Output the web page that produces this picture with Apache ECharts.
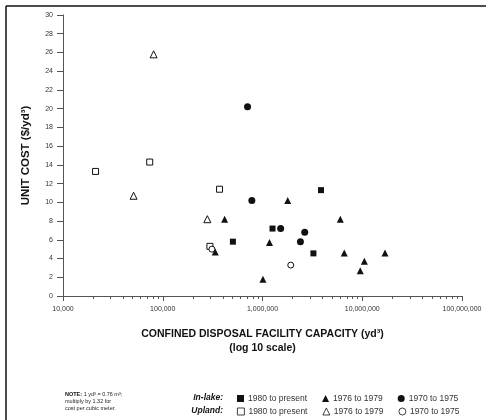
<!DOCTYPE html>
<html>
<head>
<meta charset="utf-8">
<script src="https://cdn.jsdelivr.net/npm/echarts@6/dist/echarts.min.js"></script>
<style>
  html, body { margin: 0; padding: 0; background: #fff; }
  #chart { width: 486px; height: 420px; }
</style>
</head>
<body>
<div id="chart"></div>
<script>
// capacity (yd3), unit cost ($/yd3)
const inLake1980 = [[505000, 5.8], [1260000, 7.2], [3860000, 11.3], [3240000, 4.55]]
const inLake1976 = [
  [417000, 8.2], [336000, 4.7], [1790000, 10.2], [6030000, 8.2], [1175000, 5.7],
  [6600000, 4.6], [16900000, 4.6], [10500000, 3.7], [9550000, 2.7], [1010000, 1.8]
]
const inLake1970 = [[708000, 20.2], [782000, 10.2], [1520000, 7.2], [2650000, 6.8], [2400000, 5.8]]
const upland1980 = [[21200, 13.3], [74000, 14.3], [371000, 11.4], [297000, 5.3]]
const upland1976 = [[81000, 25.8], [51000, 10.7], [280000, 8.2]]
const upland1970 = [[311000, 5.0], [1920000, 3.3]]

const periodLabels = ['1980 to present', '1976 to 1979', '1970 to 1975']

const minorTicks = []
for (let p = 10000; p < 100000000; p *= 10) {
  for (let d = 2; d <= 9; d++) minorTicks.push(d * p)
}

const ink = '#111'
const axisColor = '#555'
const font = 'Liberation Sans, Arial, sans-serif'

const filled = (name, symbol, data, size) => ({
  name: name, type: 'scatter', symbol: symbol, symbolSize: size, data: data,
  itemStyle: { color: ink, opacity: 1 }
})
const open = (name, symbol, data, size) => ({
  name: name, type: 'scatter', symbol: symbol, symbolSize: size, data: data,
  itemStyle: { color: '#fff', borderColor: ink, borderWidth: 1, opacity: 1 }
})

const chart = echarts.init(document.getElementById('chart'))
const option = {
  animation: false,
  backgroundColor: '#fff',
  textStyle: { fontFamily: font },
  grid: { left: 63, right: 24, top: 15, bottom: 124 },
  xAxis: [{
    type: 'log',
    logBase: 10,
    min: 10000,
    max: 100000000,
    name: 'CONFINED DISPOSAL FACILITY CAPACITY (yd³)\n(log 10 scale)',
    nameLocation: 'middle',
    nameGap: 31,
    nameTextStyle: { color: '#111', fontSize: 10.5, fontWeight: 'bold', lineHeight: 14, fontFamily: font },
    axisLine: { lineStyle: { color: axisColor, width: 1 } },
    axisTick: { length: 5, lineStyle: { color: axisColor } },
    axisLabel: {
      color: '#333', fontSize: 7, margin: 10,
      formatter: v => Math.round(v).toLocaleString('en-US')
    },
    splitLine: { show: false }
  }, {
    type: 'log',
    logBase: 10,
    min: 10000,
    max: 100000000,
    position: 'bottom',
    axisLine: { show: false },
    axisTick: { length: 3, customValues: minorTicks, lineStyle: { color: axisColor } },
    axisLabel: { show: false },
    splitLine: { show: false }
  }],
  yAxis: {
    type: 'value',
    min: 0,
    max: 30,
    interval: 2,
    name: 'UNIT COST ($/yd³)',
    nameLocation: 'middle',
    nameGap: 31,
    nameTextStyle: { color: '#111', fontSize: 11.5, fontWeight: 'bold', fontFamily: font },
    axisLine: { show: true, lineStyle: { color: axisColor, width: 1 } },
    axisTick: { show: true, length: 6, lineStyle: { color: axisColor } },
    axisLabel: { color: '#333', fontSize: 7, margin: 10 },
    splitLine: { show: false }
  },
  legend: [{
    data: ['In-lake ' + periodLabels[0], 'In-lake ' + periodLabels[1], 'In-lake ' + periodLabels[2]],
    left: 232, top: 389, itemWidth: 7, itemHeight: 7, itemGap: 15,
    itemStyle: { opacity: 1 },
    textStyle: { fontSize: 8.5, color: '#333', padding: [0, 0, 0, -1] },
    formatter: n => n.replace('In-lake ', '')
  }, {
    data: ['Upland ' + periodLabels[0], 'Upland ' + periodLabels[1], 'Upland ' + periodLabels[2]],
    left: 232, top: 402, itemWidth: 7, itemHeight: 7, itemGap: 15,
    itemStyle: { borderWidth: 0.8, opacity: 1 },
    textStyle: { fontSize: 8.5, color: '#333', padding: [0, 0, 0, -1] },
    formatter: n => n.replace('Upland ', '')
  }],
  graphic: [
    { type: 'line', shape: { x1: 6, y1: 6, x2: 486, y2: 6 }, style: { stroke: '#111', lineWidth: 1.5 } },
    { type: 'line', shape: { x1: 6, y1: 6, x2: 6, y2: 420 }, style: { stroke: '#111', lineWidth: 1.5 } },
    {
      type: 'text', x: 223, y: 398,
      style: { text: 'In-lake:', font: 'italic bold 8.5px ' + font, fill: '#111', align: 'right', verticalAlign: 'middle' }
    },
    {
      type: 'text', x: 223, y: 411,
      style: { text: 'Upland:', font: 'italic bold 8.5px ' + font, fill: '#111', align: 'right', verticalAlign: 'middle' }
    },
    {
      type: 'text', left: 65, top: 391,
      style: {
        text: '{b|NOTE:} 1 yd³ = 0.76 m³;\nmultiply by 1.32 for\ncost per cubic meter.',
        font: '5.5px ' + font, fill: '#222', lineHeight: 7,
        rich: { b: { fontWeight: 'bold', fontSize: 5.5, fill: '#111' } }
      }
    }
  ],
  series: [
    filled('In-lake ' + periodLabels[0], 'rect', inLake1980, 6),
    filled('In-lake ' + periodLabels[1], 'triangle', inLake1976, 7),
    filled('In-lake ' + periodLabels[2], 'circle', inLake1970, 7),
    open('Upland ' + periodLabels[0], 'rect', upland1980, 6),
    open('Upland ' + periodLabels[1], 'triangle', upland1976, 7),
    open('Upland ' + periodLabels[2], 'circle', upland1970, 6)
  ]
}
chart.setOption(option)
</script>
</body>
</html>
